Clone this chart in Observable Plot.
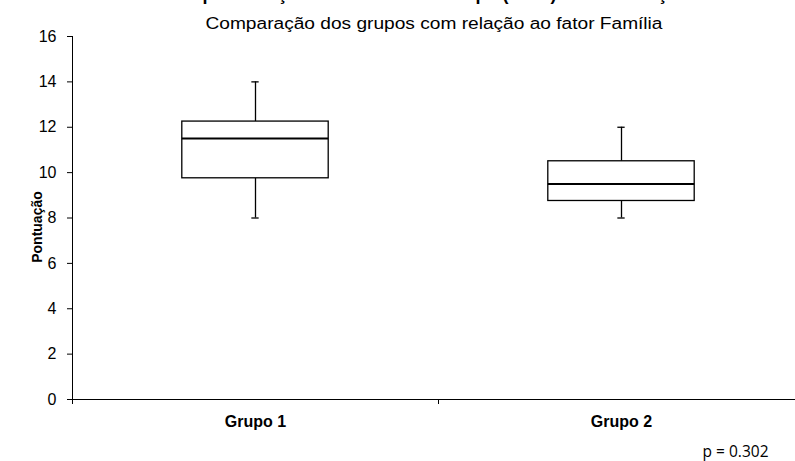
<!DOCTYPE html>
<html>
<head>
<meta charset="utf-8">
<script src="https://cdn.jsdelivr.net/npm/d3@7"></script>
<script src="https://cdn.jsdelivr.net/npm/@observablehq/plot@0.6"></script>
<style>
  html, body { margin: 0; padding: 0; background: #fff; }
  #chart { width: 795px; height: 461px; overflow: hidden; }
</style>
</head>
<body>
<div id="chart"></div>
<script>
const groups = ["Grupo 1", "Grupo 2"];
const whiskerLow = [8, 8];
const q1 = [9.75, 8.75];
const median = [11.5, 9.5];
const q3 = [12.25, 10.5];
const whiskerHigh = [14, 12];
const yTicks = [0, 2, 4, 6, 8, 10, 12, 14, 16];
const title = "Representação das médias do tempo (anos) de intervenção";
const subtitle = "Comparação dos grupos com relação ao fator Família";
const yLabel = "Pontuação";
const pText = "p = 0.302";

const data = groups.map((g, i) => ({
  g, i, lo: whiskerLow[i], q1: q1[i], med: median[i], q3: q3[i], hi: whiskerHigh[i]
}));

const font = "'Liberation Sans', Arial, sans-serif";

const chart = Plot.plot({
  width: 795,
  height: 461,
  marginTop: 36,
  marginBottom: 62,
  marginLeft: 72,
  marginRight: 0,
  style: { fontFamily: font, color: "#000", background: "#fff", overflow: "hidden" },
  x: { domain: [0, 2], range: [72, 804] },
  y: { domain: [0, 16] },
  marks: [
    Plot.ruleY([0], { stroke: "#000", strokeWidth: 1 }),
    Plot.ruleX([0], { y1: 0, y2: 16, stroke: "#000", strokeWidth: 1 }),
    Plot.axisY(yTicks, { tickSize: 5, tickPadding: 11, fontSize: 16, label: null, strokeOpacity: 1 }),
    Plot.axisX([0, 1, 2], { tickSize: 5, tickFormat: () => "", label: null, strokeOpacity: 1 }),
    Plot.axisX([0.5, 1.5], { tickSize: 0, tickPadding: 16, fontSize: 16, fontWeight: "bold",
      tickFormat: d => groups[Math.floor(d)], label: null }),
    Plot.ruleX(data, { x: d => d.i + 0.5, y1: "lo", y2: "q1", stroke: "#000", strokeWidth: 1.3 }),
    Plot.ruleX(data, { x: d => d.i + 0.5, y1: "q3", y2: "hi", stroke: "#000", strokeWidth: 1.3 }),
    Plot.ruleY(data, { y: "lo", x1: d => d.i + 0.49, x2: d => d.i + 0.51, stroke: "#000", strokeWidth: 1.3 }),
    Plot.ruleY(data, { y: "hi", x1: d => d.i + 0.49, x2: d => d.i + 0.51, stroke: "#000", strokeWidth: 1.3 }),
    Plot.rect(data, { x1: d => d.i + 0.3, x2: d => d.i + 0.7, y1: "q1", y2: "q3",
      fill: "#fff", stroke: "#000", strokeWidth: 1.3 }),
    Plot.ruleY(data, { y: "med", x1: d => d.i + 0.3, x2: d => d.i + 0.7, stroke: "#000", strokeWidth: 2 }),
    Plot.text([title], { frameAnchor: "top", dy: -42, lineAnchor: "middle", fontSize: 18, fontWeight: "bold", fill: "#000" }),
    Plot.text([subtitle], { frameAnchor: "top", dy: -13, lineAnchor: "middle", fontSize: 16, fill: "#000", className: "subtitle" }),
    Plot.text([yLabel], { frameAnchor: "left", textAnchor: "middle", lineAnchor: "middle", dx: -35, dy: 9, rotate: -90,
      fontSize: 14, fontWeight: "bold", fill: "#000" }),
    Plot.text([pText], { frameAnchor: "bottom-right", dx: -27, dy: 53, lineAnchor: "middle", textAnchor: "end",
      fontSize: 15.5, fontFamily: "'Open Sans', 'Liberation Sans', sans-serif", fill: "#000" })
  ]
});
d3.select(chart).selectAll(".subtitle text")
  .attr("textLength", 457).attr("lengthAdjust", "spacingAndGlyphs");
document.getElementById("chart").appendChild(chart);
</script>
</body>
</html>
